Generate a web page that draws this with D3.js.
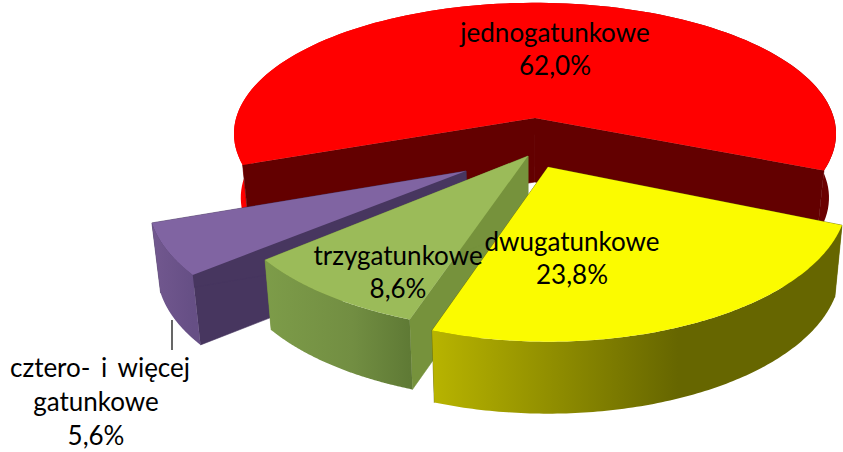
<!DOCTYPE html>
<html>
<head>
<meta charset="utf-8">
<script src="https://cdn.jsdelivr.net/npm/d3@7"></script>
<style>html,body{margin:0;padding:0;background:#fff;overflow:hidden}svg{display:block}</style>
</head>
<body>
<svg id="c" width="843" height="452"></svg>
<script>
// Data
const categories = ["jednogatunkowe", "dwugatunkowe", "trzygatunkowe", "cztero- i więcej gatunkowe"];
const values = [62.0, 23.8, 8.6, 5.6];
const labelLines = [["jednogatunkowe"], ["dwugatunkowe"], ["trzygatunkowe"], ["cztero- i więcej", "gatunkowe"]];

// Colours
const topColors = ["#ff0000", "#fbfb00", "#9bbb59", "#8064a2"];
const cutColors = ["#630000", "#666600", "#76923c", "#47365f"];
const outerStops = [
  [[0, "#ff0000"], [0.5, "#cc0000"], [1, "#660000"]],
  [[0, "#b8b400"], [0.6, "#666600"], [1, "#666600"]],
  [[0, "#7d9c49"], [0.6, "#728e42"], [1, "#5f7a35"]],
  [[0, "#72588f"], [1, "#664f85"]]
];

// Layout of the exploded 3D pie
const Rx = 293;
const Ry = [129, 138, 138, 138];
const persp = [0.12, 0.21, 0.21, 0.21];
const apexes = [[535, 118], [548, 167], [528, 156], [466, 171]];
const radiusScale = [1.02, 1, 1.02, 1.06];
const depths = [64, 72, 70, 70];
const vanishX = 530, bottomShrink = 0.977;
const labelPos = [[555, 42, 75], [572, 251, 284], [398, 265, 298], [96, 377, 445]];
const firstLineDx = [0, 0, 0, 4];
const drawOrder = [0, 3, 2, 1];
const fontSize = 26;

const svg = d3.select("#c");
const defs = svg.append("defs");
const deg = Math.PI / 180;
const pie = d3.pie().sort(null).value(d => d)
  .startAngle(-110.4 * deg).endAngle((360 - 110.4) * deg);
const arcs = pie(values);
const line = d3.line().curve(d3.curveLinear);

function project(i, a) {
  const gx = Math.sin(a), gy = -Math.cos(a);
  const p = 1 / (1 - persp[i] * gy);
  return [apexes[i][0] + Rx * radiusScale[i] * gx * p, apexes[i][1] + Ry[i] * gy * p];
}
const drop = (i, pt) => [vanishX + (pt[0] - vanishX) * bottomShrink, pt[1] + depths[i]];

drawOrder.forEach(i => {
  const d = arcs[i];
  const steps = d3.range(0, 121).map(k => d.startAngle + (d.endAngle - d.startAngle) * k / 120);
  const rim = steps.map(a => project(i, a));
  const rimLow = rim.map(pt => drop(i, pt));
  const apex = apexes[i];
  const g = svg.append("g");

  const xs = rim.map(pt => pt[0]);
  const grad = defs.append("linearGradient").attr("id", "wall" + i)
    .attr("gradientUnits", "userSpaceOnUse")
    .attr("x1", d3.min(xs)).attr("x2", d3.max(xs)).attr("y1", 0).attr("y2", 0);
  outerStops[i].forEach(s => grad.append("stop").attr("offset", s[0]).attr("stop-color", s[1]));

  const outer = () => g.append("path")
    .attr("d", line(rim.concat(rimLow.slice().reverse())) + "Z")
    .attr("fill", `url(#wall${i})`);
  const cut = () => [rim[0], rim[rim.length - 1]].forEach(c => {
    g.append("path")
      .attr("d", line([apex, c, drop(i, c), drop(i, apex)]) + "Z")
      .attr("fill", cutColors[i])
      .attr("stroke", cutColors[i]).attr("stroke-width", 0.6);
  });
  if (i === 0) { outer(); cut(); } else { cut(); outer(); }

  g.append("path")
    .attr("d", line([apex].concat(rim)) + "Z")
    .attr("fill", topColors[i]);
});

// Leader line
svg.append("line").attr("x1", 172).attr("x2", 172).attr("y1", 320).attr("y2", 350)
  .attr("stroke", "#000").attr("stroke-width", 1.2);

// Labels
const pct = v => d3.format(".1f")(v).replace(".", ",") + "%";
categories.forEach((c, i) => {
  const lines = labelLines[i].concat(pct(values[i]));
  const [x, y0, y1] = labelPos[i];
  const step = (y1 - y0) / (lines.length - 1);
  const t = svg.append("text")
    .attr("font-family", "Lato, 'Open Sans', sans-serif")
    .attr("font-size", fontSize).attr("word-spacing", 4).attr("fill", "#000").attr("text-anchor", "middle");
  lines.forEach((s, k) => t.append("tspan")
    .attr("x", x + (k === 0 ? firstLineDx[i] : 0)).attr("y", y0 + k * step).text(s));
});
</script>
</body>
</html>
